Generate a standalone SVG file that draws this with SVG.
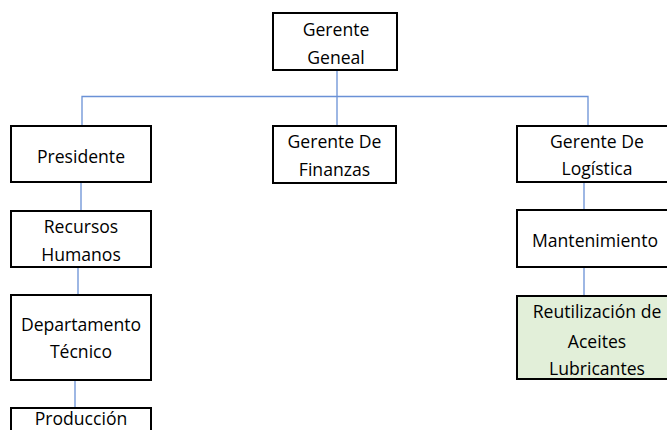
<svg xmlns="http://www.w3.org/2000/svg" width="667" height="430" viewBox="0 0 667 430">
<style>
.box{fill:#ffffff;stroke:#000000;stroke-width:2}
.green{fill:#e2efd9}
.t{font-family:"Open Sans","Liberation Sans",sans-serif;font-size:17.6px;fill:#000000;text-anchor:middle}
.c{fill:none;stroke:#6a91d6;stroke-width:1.3}
</style>
<rect width="667" height="430" fill="#ffffff"/>
<g id="connectors">
<path class="c" d="M337 70 V96.5 M82 126 V96.5 H588 V126 M337 96.5 V126"/>
<path class="c" d="M81 182 V211 M78 267 V295 M75 380 V408"/>
<path class="c" d="M584 182 V210 M584 267 V296"/>
</g>
<g id="gerente-geneal">
<rect class="box" x="273" y="13" width="124" height="57"/>
<text class="t" x="336" y="36">Gerente</text>
<text class="t" x="336" y="64">Geneal</text>
</g>
<g id="presidente">
<rect class="box" x="11" y="126" width="140" height="56"/>
<text class="t" x="81" y="163">Presidente</text>
</g>
<g id="gerente-finanzas">
<rect class="box" x="273" y="126" width="123" height="57"/>
<text class="t" x="334.5" y="148">Gerente De</text>
<text class="t" x="334.5" y="176">Finanzas</text>
</g>
<g id="gerente-logistica">
<rect class="box" x="517" y="126" width="160" height="56"/>
<text class="t" x="597" y="148">Gerente De</text>
<text class="t" x="597" y="175">Logística</text>
</g>
<g id="recursos-humanos">
<rect class="box" x="11" y="211" width="140" height="56"/>
<text class="t" x="81" y="233">Recursos</text>
<text class="t" x="81" y="261">Humanos</text>
</g>
<g id="mantenimiento">
<rect class="box" x="517" y="210" width="160" height="57"/>
<text class="t" x="595" y="247">Mantenimiento</text>
</g>
<g id="departamento-tecnico">
<rect class="box" x="11" y="295" width="140" height="85"/>
<text class="t" x="81" y="331">Departamento</text>
<text class="t" x="81" y="358">Técnico</text>
</g>
<g id="reutilizacion">
<rect class="box green" x="517" y="296" width="160" height="83"/>
<text class="t" x="597" y="318">Reutilización de</text>
<text class="t" x="597" y="348">Aceites</text>
<text class="t" x="597" y="375">Lubricantes</text>
</g>
<g id="produccion">
<rect class="box" x="11" y="408" width="140" height="40"/>
<text class="t" x="81" y="425">Producción</text>
</g>
</svg>
